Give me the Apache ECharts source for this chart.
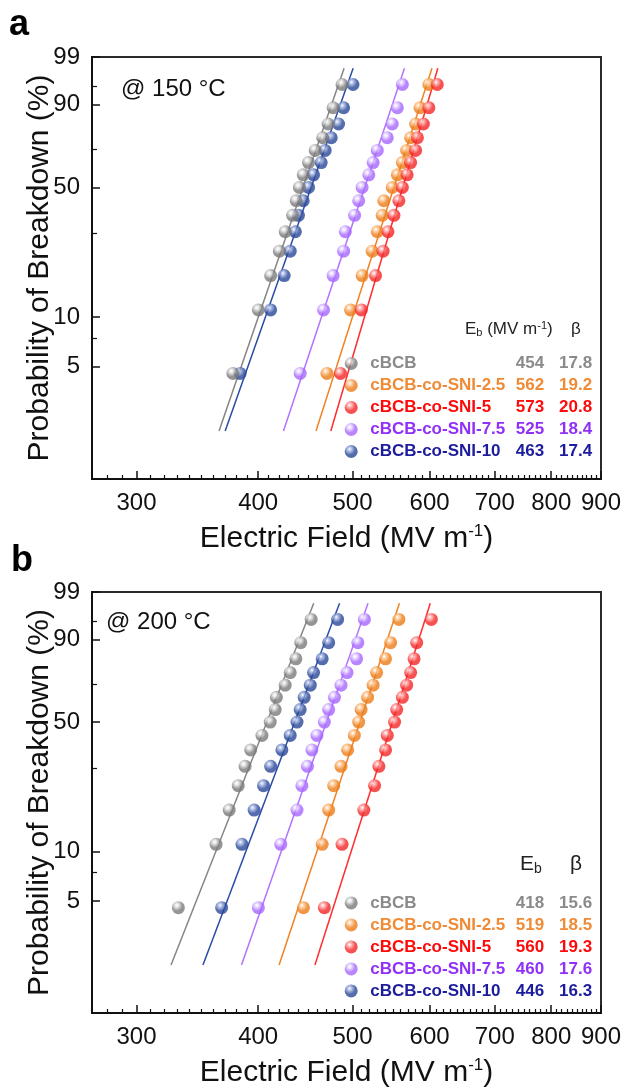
<!DOCTYPE html>
<html><head><meta charset="utf-8">
<script src="https://cdn.jsdelivr.net/npm/echarts@6/dist/echarts.min.js"></script>
<style>html,body{margin:0;padding:0;background:#fff}#c{width:626px;height:1089px}</style>
</head><body><div id="c"></div>
<script>
// ---------- data ----------
const names = ['cBCB','cBCB-co-SNI-2.5','cBCB-co-SNI-5','cBCB-co-SNI-7.5','cBCB-co-SNI-10'];
// cumulative failure probability (%) of the 15 ranked specimens
const probs = [4.55, 11.04, 17.53, 24.03, 30.52, 37.01, 43.51, 50.00, 56.49, 62.99, 69.48, 75.97, 82.47, 88.96, 95.45];
// panel a : 150 °C breakdown fields (MV/m)
const a_cBCB  = [376.8, 400.2, 412.0, 420.6, 426.4, 434.0, 437.7, 441.0, 445.0, 450.6, 457.8, 466.0, 472.0, 477.6, 487.8];
const a_SNI25 = [470.7, 497.7, 511.5, 523.8, 530.2, 536.4, 538.4, 549.3, 556.0, 562.6, 568.3, 573.7, 580.5, 586.5, 599.0];
const a_SNI5  = [486.0, 510.6, 528.0, 537.5, 543.8, 551.5, 558.0, 562.6, 569.0, 573.7, 580.5, 583.0, 591.3, 599.0, 611.0];
const a_SNI75 = [441.8, 466.9, 477.6, 489.6, 491.6, 502.5, 507.4, 511.5, 519.7, 525.0, 530.2, 542.9, 549.3, 556.0, 562.6];
const a_SNI10 = [383.3, 412.0, 425.4, 431.5, 436.8, 440.0, 445.0, 450.6, 456.0, 464.3, 468.7, 475.5, 483.8, 489.6, 500.6];
// legend values (Eb in MV/m, shape beta) as printed
const a_Eb   = [454, 562, 573, 525, 463];
const a_beta = [17.8, 19.2, 20.8, 18.4, 17.4];
// fitted-line parameters as drawn
const a_fitEb   = [454, 562, 573, 525, 463];
const a_fitBeta = [17.8, 19.2, 20.8, 18.4, 17.4];
// panel b : 200 °C breakdown fields (MV/m)
const b_cBCB  = [331.2, 362.1, 373.5, 381.6, 387.8, 393.0, 403.6, 411.6, 416.5, 417.6, 426.4, 431.5, 437.3, 442.4, 453.4];
const b_SNI25 = [445.2, 465.4, 472.6, 478.3, 486.6, 494.3, 502.2, 507.4, 510.3, 518.2, 525.0, 529.3, 540.7, 547.2, 558.0];
const b_SNI5  = [467.8, 487.8, 513.6, 526.8, 532.2, 540.7, 542.9, 552.3, 555.1, 562.6, 568.3, 573.7, 578.4, 582.0, 602.5];
const b_SNI75 = [400.2, 422.0, 438.5, 443.6, 449.5, 454.2, 459.7, 467.8, 472.6, 479.1, 486.6, 493.6, 504.9, 506.4, 514.3];
const b_SNI10 = [366.9, 385.0, 396.2, 405.1, 412.0, 423.1, 431.5, 438.5, 441.8, 446.0, 452.5, 456.0, 465.4, 472.6, 482.7];
const b_Eb   = [418, 519, 560, 460, 446];
const b_beta = [15.6, 18.5, 19.3, 17.6, 16.3];
const b_fitEb   = [418, 519, 560, 480, 446];
const b_fitBeta = [15.6, 18.5, 19.3, 17.6, 16.3];
// fitted Weibull lines drawn between these probabilities (%)
const fitRange = [2, 98];
// axes
const xRange = [270, 900];
const xTicks = [300, 400, 500, 600, 700, 800, 900];
const yRange = [1, 99];
const yTicks = [5, 10, 50, 90, 99];
const yMinor = [7.5, 30, 70, 95];

// ---------- styles ----------
const FONT = 'Liberation Sans, Arial, Helvetica, sans-serif';
const lineColors = ['#858585', '#f08224', '#ff2e2e', '#b273ff', '#2b4ca6'];
const ballBase   = ['#7a7a7a', '#ec7c18', '#f42525', '#a766ff', '#2a4898'];
const ballLight  = ['#e6e6e6', '#ffd2a6', '#ffb4b4', '#eadcff', '#aebde8'];
const textColors = ['#8a8a8a', '#f08a34', '#ff0a0a', '#9030f8', '#1c1c9c'];

const W = p => Math.log(-Math.log(1 - p / 100));
const xMinor = [];
for (let v = 280; v < 900; v += 10) if (v % 100 !== 0) xMinor.push(v);

function ball(i) {
  return { type: 'radial', x: 0.38, y: 0.32, r: 0.72,
    colorStops: [{offset: 0, color: '#ffffff'}, {offset: 0.18, color: ballLight[i]},
                 {offset: 0.6, color: ballBase[i]}, {offset: 1, color: ballBase[i]}] };
}

const grids = [
  { left: 92, top: 57, width: 509, height: 422, show: true, borderColor: '#2a2a2a', borderWidth: 2 },
  { left: 92, top: 592, width: 509, height: 421, show: true, borderColor: '#2a2a2a', borderWidth: 2 }
];

const xName = 'Electric Field (MV m{p|-1})';
const nameRich = { p: { fontSize: 17, padding: [0, 0, 14, 0], fontFamily: FONT, color: '#111' } };

const xAxes = [], yAxes = [];
[0, 1].forEach(k => {
  xAxes.push({
    type: 'log', logBase: 10, gridIndex: k, min: xRange[0], max: xRange[1], position: 'bottom', offset: 0,
    name: xName, nameLocation: 'middle', nameGap: 44, nameMoveOverlap: false,
    nameTextStyle: { fontSize: 30, color: '#111', fontFamily: FONT, rich: nameRich },
    axisLine: { show: true, onZero: false, lineStyle: { color: '#111', width: 2 } },
    axisTick: { show: true, inside: true, length: 8, customValues: xTicks, lineStyle: { color: '#111', width: 1.5 } },
    axisLabel: { show: true, customValues: xTicks, margin: 12, fontSize: 24, color: '#111', fontFamily: FONT },
    splitLine: { show: false }, minorTick: { show: false }
  });
  xAxes.push({
    type: 'log', logBase: 10, gridIndex: k, min: xRange[0], max: xRange[1], position: 'bottom', offset: 0,
    axisLine: { show: false, onZero: false },
    axisTick: { show: true, inside: true, length: 4, customValues: xMinor, lineStyle: { color: '#111', width: 1.2 } },
    axisLabel: { show: false }, splitLine: { show: false }
  });
  yAxes.push({
    type: 'value', gridIndex: k, min: W(yRange[0]), max: W(yRange[1]), position: 'left', offset: 0,
    name: 'Probability of Breakdown (%)', nameLocation: 'middle', nameGap: 37, nameMoveOverlap: false,
    nameTextStyle: { fontSize: 30, color: '#111', fontFamily: FONT },
    axisLine: { show: true, onZero: false, lineStyle: { color: '#111', width: 2 } },
    axisTick: { show: true, inside: true, length: 8, customValues: yTicks.map(W), lineStyle: { color: '#111', width: 1.5 } },
    axisLabel: { show: true, customValues: yTicks.map(W), margin: 12, fontSize: 24, color: '#111', fontFamily: FONT,
      formatter: v => { let best = yTicks[0]; yTicks.forEach(t => { if (Math.abs(W(t) - v) < Math.abs(W(best) - v)) best = t; }); return String(best); } },
    splitLine: { show: false }
  });
  yAxes.push({
    type: 'value', gridIndex: k, min: W(yRange[0]), max: W(yRange[1]), position: 'left', offset: 0,
    axisLine: { show: false, onZero: false },
    axisTick: { show: true, inside: true, length: 5, customValues: yMinor.map(W), lineStyle: { color: '#111', width: 1.2 } },
    axisLabel: { show: false }, splitLine: { show: false }
  });
});

const panels = [
  { fields: [a_cBCB, a_SNI25, a_SNI5, a_SNI75, a_SNI10], Eb: a_fitEb, beta: a_fitBeta },
  { fields: [b_cBCB, b_SNI25, b_SNI5, b_SNI75, b_SNI10], Eb: b_fitEb, beta: b_fitBeta }
];

const series = [];
panels.forEach((pn, k) => {
  names.forEach((n, i) => {
    series.push({
      type: 'line', name: n + ' fit', xAxisIndex: 2 * k, yAxisIndex: 2 * k,
      data: fitRange.map(p => [pn.Eb[i] * Math.exp(W(p) / pn.beta[i]), W(p)]),
      symbol: 'none', showSymbol: false, silent: true, z: 2,
      lineStyle: { color: lineColors[i], width: 1.5 }
    });
  });
  [4, 0, 1, 2, 3].forEach(i => {
    series.push({
      type: 'scatter', name: names[i], xAxisIndex: 2 * k, yAxisIndex: 2 * k,
      data: pn.fields[i].map((e, j) => [e, W(probs[j])]),
      symbol: 'circle', symbolSize: 13, z: 3,
      itemStyle: { color: ball(i) }
    });
  });
});

function legendRich() {
  const r = {};
  names.forEach((n, i) => {
    const base = { fontSize: 17, fontWeight: 'bold', fontFamily: FONT, color: textColors[i] };
    r['n' + i] = Object.assign({ width: 140 }, base);
    r['e' + i] = Object.assign({ width: 34, align: 'right' }, base);
    r['b' + i] = Object.assign({ width: 48, align: 'right' }, base);
  });
  return r;
}
function makeLegend(top, Eb, beta) {
  return {
    orient: 'vertical', left: 344.7, top: top, itemWidth: 28, itemHeight: 13, itemGap: 5,
    selectedMode: false, padding: 0, icon: 'circle',
    data: names.slice(),
    formatter: name => { const i = names.indexOf(name); return '{n' + i + '|' + name + '}{e' + i + '|' + Eb[i] + '}{b' + i + '|' + beta[i] + '}'; },
    textStyle: { fontSize: 17, fontWeight: 'bold', fontFamily: FONT, rich: legendRich() }
  };
}

const subRich = (fs, pad) => ({ s: { fontSize: fs, padding: [pad, 0, 0, 0], fontFamily: FONT, color: '#222' },
                                p: { fontSize: fs, padding: [0, 0, pad, 0], fontFamily: FONT, color: '#222' } });

const option = {
  animation: false,
  backgroundColor: '#fff',
  textStyle: { fontFamily: FONT },
  grid: grids,
  xAxis: xAxes,
  yAxis: yAxes,
  series: series,
  legend: [makeLegend(355, a_Eb, a_beta), makeLegend(894.4, b_Eb, b_beta)],
  title: [
    { text: 'a', left: 9, top: 7, padding: 0, textStyle: { fontSize: 36, fontWeight: 'bold', color: '#000', fontFamily: FONT } },
    { text: 'b', left: 11, top: 543, padding: 0, textStyle: { fontSize: 36, fontWeight: 'bold', color: '#000', fontFamily: FONT } },
    { text: '@ 150 °C', left: 121, top: 77, padding: 0, textStyle: { fontSize: 24, fontWeight: 'normal', color: '#111', fontFamily: FONT } },
    { text: '@ 200 °C', left: 106, top: 610, padding: 0, textStyle: { fontSize: 24, fontWeight: 'normal', color: '#111', fontFamily: FONT } },
    { text: 'E{s|b} (MV m{p|-1})', left: 465, top: 320, padding: 0,
      textStyle: { fontSize: 17, fontWeight: 'normal', color: '#222', fontFamily: FONT, rich: subRich(11, 7) } },
    { text: 'β', left: 571, top: 321, padding: 0, textStyle: { fontSize: 17, fontWeight: 'normal', color: '#222', fontFamily: FONT } },
    { text: 'E{s|b}', left: 520, top: 853, padding: 0,
      textStyle: { fontSize: 21, fontWeight: 'normal', color: '#222', fontFamily: FONT, rich: subRich(14, 9) } },
    { text: 'β', left: 570, top: 854, padding: 0, textStyle: { fontSize: 21, fontWeight: 'normal', color: '#222', fontFamily: FONT } }
  ]
};

const chart = echarts.init(document.getElementById('c'), null, { renderer: 'canvas' });
chart.setOption(option);
</script>
</body></html>
